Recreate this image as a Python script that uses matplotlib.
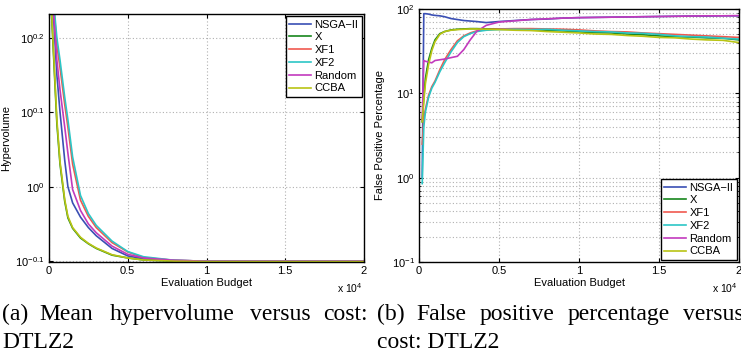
import matplotlib
matplotlib.use('Agg')
import matplotlib.pyplot as plt
from matplotlib.ticker import FixedLocator, NullLocator, LogLocator

plt.rcParams['font.family'] = ['Liberation Sans', 'DejaVu Sans']
plt.rcParams['mathtext.fontset'] = 'custom'
plt.rcParams['mathtext.rm'] = 'Liberation Sans'
plt.rcParams['mathtext.it'] = 'Liberation Sans:italic'
plt.rcParams['mathtext.default'] = 'regular'

names = ['NSGA\u2212II', 'X', 'XF1', 'XF2', 'Random', 'CCBA']
colors = ['#3a4fb4', '#17861d', '#f0594f', '#2cc6c6', '#c23abd', '#b9c414']

# (a) hypervolume vs evaluation budget
hv_x = [100, 200, 500, 700, 1000, 1200, 1500, 2000, 2500, 3000, 4000, 5000, 6000, 8000, 10000, 20000]
hv_nsga = [2.0, 1.82, 1.413, 1.259, 1.084, 1.0, 0.951, 0.910, 0.881, 0.859, 0.826, 0.807, 0.800, 0.796, 0.794, 0.794]
hv_x_ = [1.82, 1.641, 1.216, 1.072, 0.955, 0.908, 0.879, 0.853, 0.838, 0.826, 0.809, 0.802, 0.797, 0.794, 0.793, 0.793]
hv_xf1 = [2.0, 1.862, 1.549, 1.445, 1.288, 1.202, 1.072, 0.959, 0.912, 0.881, 0.841, 0.817, 0.803, 0.796, 0.794, 0.794]
hv_xf2 = [2.0, 1.862, 1.585, 1.479, 1.318, 1.230, 1.096, 0.973, 0.920, 0.887, 0.845, 0.818, 0.805, 0.796, 0.794, 0.794]
hv_random = [2.0, 1.820, 1.479, 1.349, 1.202, 1.109, 0.991, 0.929, 0.891, 0.867, 0.832, 0.811, 0.802, 0.796, 0.794, 0.794]
hv_ccba = [1.84, 1.66, 1.23, 1.08, 0.96, 0.912, 0.881, 0.855, 0.839, 0.827, 0.810, 0.802, 0.797, 0.794, 0.793, 0.793]

# (b) false positive percentage vs evaluation budget
fp_x = [200, 300, 400, 600, 800, 1000, 1300, 1600, 2000, 2400, 2800, 3200, 3600, 4200, 5000,
        6000, 7000, 8000, 9000, 10000, 11000, 12000, 13000, 14000, 15000, 16000, 17000, 18000, 19000, 20000]
fp_nsga = [1.0, 88, 88, 87, 85, 84, 83, 81, 77, 75, 73, 72, 71, 69, 71,
           73, 75, 76, 78, 79, 79.5, 80, 80.5, 81, 81.5, 82, 82.5, 82.5, 83, 83]
fp_x_ = [4.6, 9, 15, 25, 34, 43, 51, 54, 56.5, 57.5, 58, 58.5, 58.5, 58, 58,
         57.5, 57, 56, 55, 53.5, 52.5, 52, 50.5, 49.5, 48, 47, 46.5, 45.5, 45, 43]
fp_xf1 = [2.5, 5, 6.5, 9.5, 12, 14, 19, 25, 33, 42, 48, 52, 55, 57, 58,
          58.5, 58.5, 58, 57.5, 56.5, 55, 54, 53.5, 52, 51, 50, 49, 48, 47, 46]
fp_xf2 = [0.85, 4, 6, 9, 11.5, 13.5, 18, 23, 31, 40, 47, 51, 54, 56, 57,
          57.5, 57, 57.5, 56, 55, 54, 53.5, 52, 51.5, 50, 48, 47, 46.5, 45, 44]
fp_random = [4.8, 24.5, 24, 23.5, 23, 24.5, 25, 25.5, 26.5, 27.5, 33, 43, 54, 64, 70,
             72.5, 75, 76.5, 78, 79, 79.5, 80, 80.5, 81, 81.5, 82, 82.5, 83, 83, 83.5]
fp_ccba = [4.6, 8, 13, 22, 32, 41, 50, 54, 56, 57, 57.5, 58, 58, 57.5, 57,
           56, 55.5, 54, 53, 52, 50.5, 50, 48.5, 47.5, 46, 45.5, 44, 43, 42.5, 40]

x_ticks = [0, 5000, 10000, 15000, 20000]
x_tick_labels = ['0', '0.5', '1', '1.5', '2']
hv_ticks = [10 ** -0.1, 1.0, 10 ** 0.1, 10 ** 0.2]
hv_tick_labels = [r'$10^{-0.1}$', r'$10^{0}$', r'$10^{0.1}$', r'$10^{0.2}$']

fig = plt.figure(figsize=(7.41, 3.60), dpi=100)
ax1 = fig.add_axes([49 / 741, 1 - 262 / 360, 315 / 741, 248 / 360])
ax2 = fig.add_axes([419 / 741, 1 - 262 / 360, 320 / 741, 253 / 360])

for ys, c, n in zip([hv_nsga, hv_x_, hv_xf1, hv_xf2, hv_random, hv_ccba], colors, names):
    ax1.plot(hv_x, ys, color=c, lw=1.2, label=n)
for ys, c, n in zip([fp_nsga, fp_x_, fp_xf1, fp_xf2, fp_random, fp_ccba], colors, names):
    ax2.plot(fp_x, ys, color=c, lw=1.2, label=n)

grid_kw = dict(color='#b0b0b0', linestyle=(0, (1, 2)), linewidth=0.8)

ax1.set_yscale('log')
ax1.set_ylim(0.792, 1.706)
ax1.yaxis.set_major_locator(FixedLocator(hv_ticks))
ax1.yaxis.set_minor_locator(NullLocator())
ax1.set_yticklabels(hv_tick_labels)
ax1.set_ylabel('Hypervolume', fontsize=8)
ax1.yaxis.set_label_coords(-0.12, 0.5)
ax1.grid(True, which='major', **grid_kw)

ax2.set_yscale('log')
ax2.set_ylim(0.1, 100)
ax2.yaxis.set_major_locator(LogLocator(base=10))
ax2.yaxis.set_minor_locator(LogLocator(base=10, subs=range(2, 10)))
ax2.set_ylabel('False Positive Percentage', fontsize=8)
ax2.yaxis.set_label_coords(-0.105, 0.5)
ax2.grid(True, which='major', **grid_kw)
ax2.grid(True, which='minor', axis='y', **grid_kw)

for ax in (ax1, ax2):
    ax.set_xlim(0, 20000)
    ax.set_xticks(x_ticks)
    ax.set_xticklabels(x_tick_labels)
    ax.set_xlabel('Evaluation Budget', fontsize=8, labelpad=1.5)
    ax.tick_params(which='both', direction='in', top=True, right=True, labelsize=8, pad=3)
    ax.tick_params(which='major', length=3)
    ax.tick_params(which='minor', length=1.5)
    for s in ax.spines.values():
        s.set_linewidth(1.0)
    ax.set_axisbelow(True)

leg_kw = dict(fontsize=8, fancybox=False, framealpha=1, edgecolor='black',
              handlelength=2.0, handletextpad=0.3, labelspacing=0.25,
              borderpad=0.3, borderaxespad=0.2)
l1 = ax1.legend(loc='upper right', **leg_kw)
l2 = ax2.legend(loc='lower right', **leg_kw)
for l in (l1, l2):
    l.get_frame().set_linewidth(1.0)

fig.text(363 / 741, 1 - 293 / 360, r'x 10$^{4}$', fontsize=7.5, ha='right', va='baseline')
fig.text(738 / 741, 1 - 293 / 360, r'x 10$^{4}$', fontsize=7.5, ha='right', va='baseline')

# justified two-line captions
cap_kw = dict(fontsize=17, family='Liberation Serif', va='baseline', ha='left')
y1 = 1 - 320 / 360
y2 = 1 - 348 / 360
for word, px in [('(a)', 2), ('Mean', 39), ('hypervolume', 110), ('versus', 250), ('cost:', 323)]:
    fig.text(px / 741, y1, word, **cap_kw)
fig.text(2 / 741, y2, 'DTLZ2', **cap_kw)
for word, px in [('(b)', 377), ('False', 416), ('positive', 480), ('percentage', 568), ('versus', 683)]:
    fig.text(px / 741, y1, word, **cap_kw)
fig.text(377 / 741, y2, 'cost: DTLZ2', **cap_kw)

fig.savefig('out.png', dpi=100)
